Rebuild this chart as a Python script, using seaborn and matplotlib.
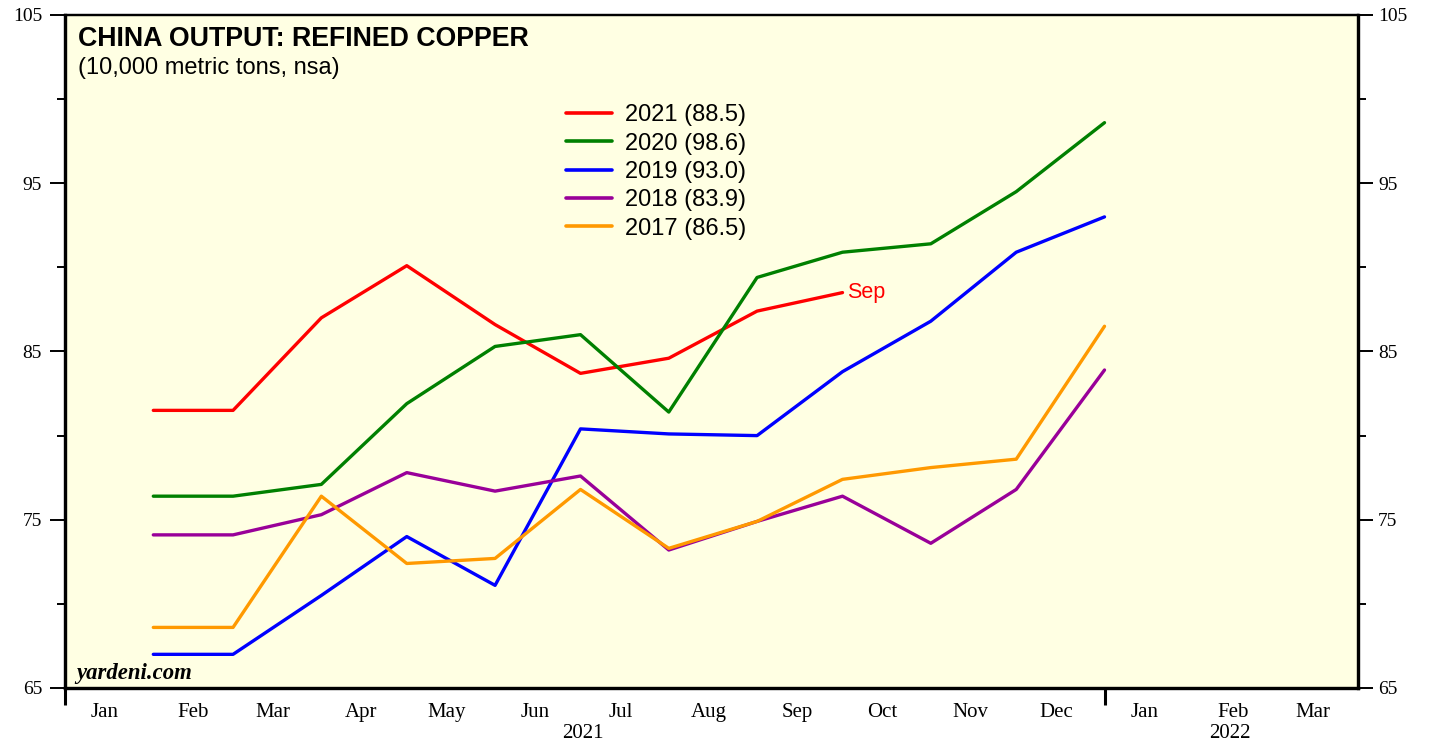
import matplotlib
matplotlib.use('Agg')
import matplotlib.pyplot as plt
import matplotlib.dates as mdates
from matplotlib.ticker import FixedLocator, FixedFormatter
from matplotlib.transforms import blended_transform_factory
import pandas as pd
import seaborn as sns

# --- data (10,000 metric tons, monthly) ---
years = ['2021', '2020', '2019', '2018', '2017']
last_vals = ['88.5', '98.6', '93.0', '83.9', '86.5']
vals_2021 = [81.5, 81.5, 87.0, 90.1, 86.6, 83.7, 84.6, 87.4, 88.5]
vals_2020 = [76.4, 76.4, 77.1, 81.9, 85.3, 86.0, 81.4, 89.4, 90.9, 91.4, 94.5, 98.6]
vals_2019 = [67.0, 67.0, 70.5, 74.0, 71.1, 80.4, 80.1, 80.0, 83.8, 86.8, 90.9, 93.0]
vals_2018 = [74.1, 74.1, 75.3, 77.8, 76.7, 77.6, 73.2, 74.9, 76.4, 73.6, 76.8, 83.9]
vals_2017 = [68.6, 68.6, 76.4, 72.4, 72.7, 76.8, 73.3, 74.9, 77.4, 78.1, 78.6, 86.5]
series_vals = [vals_2021, vals_2020, vals_2019, vals_2018, vals_2017]
colors = ['#ff0000', '#008000', '#0000ff', '#990099', '#ff9900']
month_names = ['Jan', 'Feb', 'Mar', 'Apr', 'May', 'Jun', 'Jul', 'Aug',
               'Sep', 'Oct', 'Nov', 'Dec', 'Jan', 'Feb', 'Mar']
y_major = [65, 75, 85, 95, 105]
y_minor = [70, 80, 90, 100]

# monthly values are plotted at month end (start of next month)
month_ends = pd.date_range('2021-02-01', periods=12, freq='MS')

rows = []
for yr, lv, vals in zip(years, last_vals, series_vals):
    lab = f'{yr} ({lv})'
    for d, v in zip(month_ends, vals):
        rows.append({'date': d, 'value': v, 'series': lab})
df = pd.DataFrame(rows)
labels = [f'{y} ({v})' for y, v in zip(years, last_vals)]
palette = dict(zip(labels, colors))

sns.set_style('ticks')
plt.rcParams['font.family'] = ['Liberation Sans', 'DejaVu Sans']
plt.rcParams['text.color'] = 'black'
plt.rcParams['xtick.color'] = 'black'
plt.rcParams['ytick.color'] = 'black'

fig = plt.figure(figsize=(14.29, 7.42), dpi=100)
ax = fig.add_axes([0.0455, 0.0728, 0.9048, 0.907])
ax.set_facecolor('#ffffe3')

sns.lineplot(data=df, x='date', y='value', hue='series', hue_order=labels,
             palette=palette, linewidth=2.4, ax=ax, legend=True)

ax.set_xlim(pd.Timestamp('2021-01-01'), pd.Timestamp('2022-03-31'))
ax.set_ylim(65, 105)
ax.set_xlabel('')
ax.set_ylabel('')

# y axis, left side
ax.set_yticks(y_major)
ax.set_yticks(y_minor, minor=True)
ax.tick_params(axis='y', which='both', direction='out', width=1.4,
               labelsize=14, labelfontfamily='Liberation Serif')
ax.tick_params(axis='y', which='major', length=11, pad=5.5)
ax.tick_params(axis='y', which='minor', length=5.5)

# y axis, right side (same scale)
ax2 = ax.twinx()
ax2.set_ylim(65, 105)
ax2.set_yticks(y_major)
ax2.set_yticks(y_minor, minor=True)
ax2.tick_params(axis='y', which='both', direction='out', width=1.4,
                labelsize=14, labelfontfamily='Liberation Serif')
ax2.tick_params(axis='y', which='major', length=11, pad=3.5)
ax2.tick_params(axis='y', which='minor', length=5.5)
ax2.set_ylabel('')

# x axis: year boundary ticks, month labels mid-month
year_starts = [mdates.date2num(pd.Timestamp('2021-01-01')),
               mdates.date2num(pd.Timestamp('2022-01-01'))]
mid_months = [mdates.date2num(pd.Timestamp(f'{y}-{m:02d}-15'))
              for y, m in [(2021, i) for i in range(1, 13)] + [(2022, i) for i in range(1, 4)]]
ax.xaxis.set_major_locator(FixedLocator(year_starts))
ax.xaxis.set_major_formatter(FixedFormatter(['', '']))
ax.xaxis.set_minor_locator(FixedLocator(mid_months))
ax.xaxis.set_minor_formatter(FixedFormatter(month_names))
ax.tick_params(axis='x', which='major', length=12, width=2.2, direction='out')
ax.tick_params(axis='x', which='minor', length=0, pad=11, labelsize=15,
               labelfontfamily='Liberation Serif')

trans = blended_transform_factory(ax.transData, fig.transFigure)
ax.text(mdates.date2num(pd.Timestamp('2021-07-02')), 0.011, '2021', transform=trans,
        ha='center', va='center', fontsize=15, family=['Liberation Serif'])
ax.text(mdates.date2num(pd.Timestamp('2022-02-14')), 0.011, '2022', transform=trans,
        ha='center', va='center', fontsize=15, family=['Liberation Serif'])

for a in (ax, ax2):
    for side in ['left', 'bottom', 'right']:
        a.spines[side].set_linewidth(2.3)
    a.spines['top'].set_linewidth(1.6)
    for s in a.spines.values():
        s.set_color('black')

# titles
ax.text(0.010, 0.984, 'CHINA OUTPUT: REFINED COPPER', transform=ax.transAxes,
        ha='left', va='top', fontsize=19.3, fontweight='bold')
ax.text(0.010, 0.937, '(10,000 metric tons, nsa)', transform=ax.transAxes,
        ha='left', va='top', fontsize=17)
ax.text(0.009, 0.013, 'yardeni.com', transform=ax.transAxes, ha='left',
        va='baseline', fontsize=16.4, fontweight='bold', style='italic',
        family=['Liberation Serif'])

# end label for the current year
ax.annotate('Sep', xy=(month_ends[len(vals_2021) - 1], vals_2021[-1]),
            xytext=(3.5, 0), textcoords='offset points', color='#ff0000',
            fontsize=15.5, va='center', ha='left')

leg = ax.legend(loc='upper left', bbox_to_anchor=(0.3875, 0.867), frameon=False,
                fontsize=17, handlelength=1.95, handletextpad=0.55,
                labelspacing=0.265, borderaxespad=0, borderpad=0)
for line in leg.get_lines():
    line.set_linewidth(2.6)

fig.savefig('out.png', dpi=100)
